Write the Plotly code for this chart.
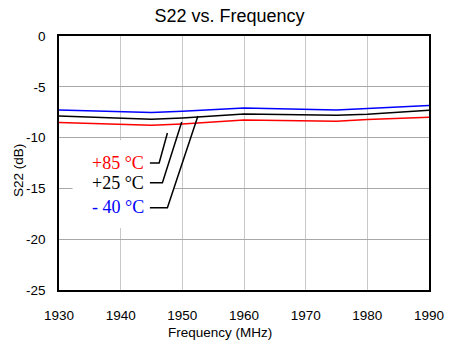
import plotly.graph_objects as go

# ---- data ----
freq_mhz = [1930, 1940, 1945, 1950, 1960, 1975, 1980, 1990]
s22_m40 = [-7.28, -7.49, -7.53, -7.40, -7.08, -7.28, -7.14, -6.84]
s22_p25 = [-7.87, -8.12, -8.19, -8.06, -7.67, -7.80, -7.70, -7.31]
s22_p85 = [-8.52, -8.71, -8.78, -8.65, -8.26, -8.39, -8.22, -7.99]

series_names = ["- 40 °C", "+25 °C", "+85 °C"]
series_colors = ["#0000ff", "#000000", "#ff0000"]

x_ticks = [1930, 1940, 1950, 1960, 1970, 1980, 1990]
y_ticks = [0, -5, -10, -15, -20, -25]

# label positions (data coordinates) and leader-line vertices
label_x = 1944.15
label_y = [-16.85, -14.45, -12.5]          # -40, +25, +85
leader_x = [[1944.74, 1947.58, 1952.53],
            [1944.74, 1946.77, 1949.90],
            [1944.74, 1946.24, 1947.58]]
leader_y = [[-16.91, -16.91, -7.87],
            [-14.45, -14.45, -8.46],
            [-12.49, -12.49, -9.54]]
label_box_x = [1932.2, 1948.7]
label_box_y = [-10.26, -18.9]

sans = "Liberation Sans, Arial, sans-serif"
serif = "Liberation Serif, Times New Roman, serif"

fig = go.Figure()
for name, ys, col in zip(series_names, [s22_m40, s22_p25, s22_p85], series_colors):
    fig.add_trace(go.Scatter(x=freq_mhz, y=ys, mode="lines", name=name,
                             line=dict(color=col, width=1.5), showlegend=False))

# white box behind labels (hides gridlines)
fig.add_shape(type="rect", xref="x", yref="y",
              x0=label_box_x[0], x1=label_box_x[1],
              y0=label_box_y[0], y1=label_box_y[1],
              fillcolor="white", line=dict(width=0), layer="between")

for lx, ly in zip(leader_x, leader_y):
    path = "M {},{} L {},{} L {},{}".format(lx[0], ly[0], lx[1], ly[1], lx[2], ly[2])
    fig.add_shape(type="path", xref="x", yref="y", path=path,
                  line=dict(color="black", width=1.5))

for name, ly, col in zip(series_names, label_y, series_colors):
    fig.add_annotation(x=label_x, y=ly, xref="x", yref="y", text=name,
                       showarrow=False, xanchor="right", yanchor="middle",
                       font=dict(family=serif, size=18, color=col))

fig.add_annotation(x=0.434, y=-0.169, xref="paper", yref="paper",
                   text="Frequency (MHz)", showarrow=False,
                   xanchor="center", yanchor="middle",
                   font=dict(family=sans, size=13.5, color="black"))
fig.add_annotation(x=-0.111, y=0.472, xref="paper", yref="paper",
                   text="S22 (dB)", showarrow=False, textangle=-90,
                   xanchor="center", yanchor="middle",
                   font=dict(family=sans, size=13.5, color="black"))

fig.update_layout(
    width=456, height=345,
    margin=dict(l=59, r=24, t=36, b=55),
    paper_bgcolor="white", plot_bgcolor="white",
    title=dict(text="S22 vs. Frequency", x=229.5 / 456, xref="container",
               xanchor="center", y=1 - 15.5 / 345, yanchor="middle",
               font=dict(family=sans, size=18, color="black")),
    font=dict(family=sans, size=13.5, color="black"),
)
fig.update_xaxes(range=[1930, 1990], tickvals=x_ticks, ticktext=[str(v) for v in x_ticks],
                 showgrid=True, gridcolor="#c8c8c8", gridwidth=1,
                 showline=True, linecolor="black", linewidth=1.5, mirror=True,
                 ticks="", ticklabelstandoff=12, zeroline=False,
                 tickfont=dict(family=sans, size=13.5, color="black"))
fig.update_yaxes(range=[-25, 0], tickvals=y_ticks, ticktext=[str(v) for v in y_ticks],
                 showgrid=True, gridcolor="#a8a8a8", gridwidth=1,
                 showline=True, linecolor="black", linewidth=1.5, mirror=True,
                 ticks="", ticklabelstandoff=9, zeroline=False,
                 tickfont=dict(family=sans, size=13.5, color="black"))

fig.write_html("out.html")
